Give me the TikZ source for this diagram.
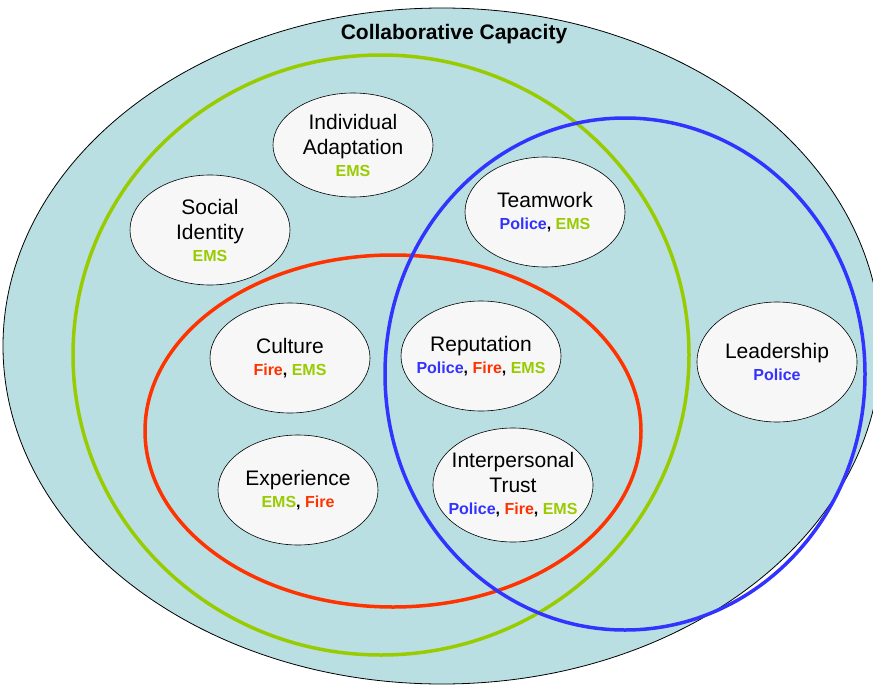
\documentclass[tikz,border=0pt]{standalone}
\usepackage{fontspec}
\setmainfont{Liberation Sans}
\usetikzlibrary{shapes.geometric}
\definecolor{capfill}{HTML}{B9DFE2}
\definecolor{emsgreen}{HTML}{99CC00}
\definecolor{policeblue}{HTML}{3333FF}
\definecolor{firered}{HTML}{FF3300}
\definecolor{bubblefill}{HTML}{F7F7F7}
\newcommand{\emstag}{\textcolor{emsgreen}{EMS}}
\newcommand{\policetag}{\textcolor{policeblue}{Police}}
\newcommand{\firetag}{\textcolor{firered}{Fire}}
\newcommand{\subline}[1]{{\fontsize{16}{18}\selectfont\bfseries #1}}
\tikzset{
  factor/.style={ellipse, draw=black, line width=0.6pt, fill=bubblefill,
    minimum width=160pt, minimum height=110pt, inner xsep=-20pt, inner ysep=0pt,
    align=center, font=\fontsize{21}{25}\selectfont},
  ring/.style={line width=3.5pt}
}
\begin{document}
\begin{tikzpicture}[x=1pt,y=-1pt]
      \useasboundingbox (0,0) rectangle (873,685);
      \draw[fill=capfill, line width=0.8pt] (442,346) ellipse [x radius=439, y radius=338];
      \node (title) at (454,34) {\fontsize{21}{24}\selectfont\bfseries Collaborative Capacity};
      \begin{scope}[ring]
        \draw[emsgreen] (381,355) ellipse [x radius=308, y radius=300];
        \draw[firered] (393,431) ellipse [x radius=248, y radius=176];
        \draw[policeblue] (625,374) ellipse [x radius=240, y radius=256];
      \end{scope}
      \draw
        (353,145) node[factor, minimum height=104pt] (adapt) {Individual\\Adaptation\\[-3pt]\subline{\emstag}}
        (210,230) node[factor] (identity) {Social\\Identity\\[-3pt]\subline{\emstag}}
        (545,212) node[factor] (teamwork) {Teamwork\\[-3pt]\subline{\policetag, \emstag}}
        (290,358) node[factor] (culture) {Culture\\[-3pt]\subline{\firetag, \emstag}}
        (481,356) node[factor] (reputation) {Reputation\\[-3pt]\subline{\policetag, \firetag, \emstag}}
        (298,490) node[factor] (experience) {Experience\\[-3pt]\subline{\emstag, \firetag}}
        (513,485) node[factor, minimum height=114pt] (trust) {Interpersonal\\Trust\\[-3pt]\subline{\policetag, \firetag, \emstag}}
        (777,362) node[factor, minimum height=120pt] (leadership) {Leadership\\[-3pt]\subline{\policetag}};
    \end{tikzpicture}
\end{document}
